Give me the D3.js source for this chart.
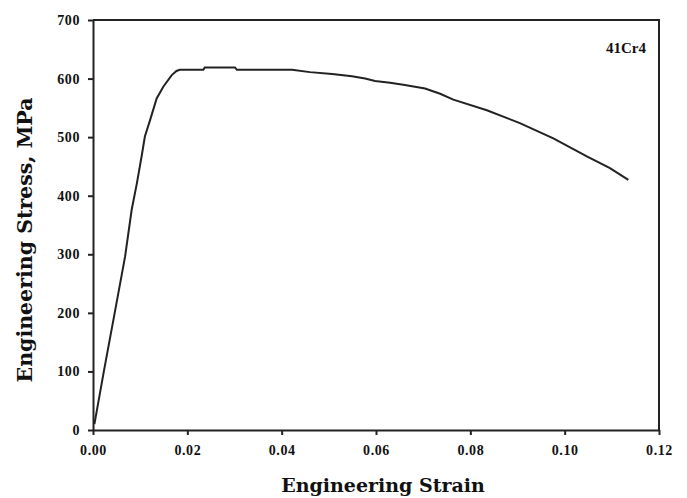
<!DOCTYPE html>
<html>
<head>
<meta charset="utf-8">
<script src="https://cdn.jsdelivr.net/npm/d3@7"></script>
<style>
  body { margin: 0; background: #fff; }
  svg { display: block; }
  .tick text { font-family: "Liberation Serif", serif; font-weight: bold; font-size: 14px; letter-spacing: 0.6px; fill: #111; }
  .axis-title { font-family: "DejaVu Serif", serif; font-weight: bold; fill: #111; }
</style>
</head>
<body>
<svg id="main-svg" width="687" height="498"></svg>
<script>
// engineering stress-strain curve, 41Cr4
var strain = [0.0003, 0.0023, 0.0046, 0.0068, 0.0082, 0.0093, 0.0103, 0.0110, 0.0121, 0.0135, 0.0149, 0.0167, 0.0177, 0.0184,
    0.0234, 0.0237, 0.0301, 0.0305, 0.0422, 0.046, 0.0507, 0.0549, 0.0577, 0.0598, 0.063, 0.0661, 0.0704, 0.0736,
    0.0764, 0.0835, 0.0905, 0.0976, 0.1047, 0.1096, 0.1135]
var stress = [10, 100, 200, 296, 376, 421, 467, 501, 529, 566, 586, 606, 613, 615,
    615, 619, 619, 615, 615, 611, 608, 604, 600, 596, 593, 589, 583, 574,
    564, 546, 524, 498, 467, 447, 427]
var xTicks = [0, 0.02, 0.04, 0.06, 0.08, 0.10, 0.12]
var yTicks = [0, 100, 200, 300, 400, 500, 600, 700]
var label = '41Cr4'

var svg = d3.select('#main-svg')
var plotL = 93, plotR = 659, plotT = 20, plotB = 430

var x = d3.scaleLinear().domain([0, 0.12]).range([plotL, plotR])
var y = d3.scaleLinear().domain([0, 700]).range([plotB, plotT])

// frame: top and right sides
svg.append('path')
    .attr('d', 'M' + plotL + ',' + plotT + 'H' + plotR + 'V' + plotB)
    .attr('fill', 'none')
    .attr('stroke', '#222')
    .attr('stroke-width', 2)

svg.append('g')
    .attr('transform', 'translate(0,' + plotB + ')')
    .call(d3.axisBottom(x).tickValues(xTicks).tickFormat(d3.format('.2f')).tickSize(5).tickSizeOuter(0).tickPadding(10))
svg.append('g')
    .attr('transform', 'translate(' + plotL + ',0)')
    .call(d3.axisLeft(y).tickValues(yTicks).tickSize(5).tickSizeOuter(0).tickPadding(8))

svg.selectAll('.domain, .tick line')
    .attr('stroke', '#222')
    .attr('stroke-width', 2)

var line = d3.line()
    .x(function(d, i) { return x(strain[i]) })
    .y(function(d, i) { return y(stress[i]) })

svg.append('path')
    .datum(strain)
    .attr('d', line)
    .attr('fill', 'none')
    .attr('stroke', '#222')
    .attr('stroke-width', 2)

svg.append('text')
    .attr('x', 626)
    .attr('y', 53)
    .attr('text-anchor', 'middle')
    .style('font-family', '"Liberation Serif", serif')
    .style('font-weight', 'bold')
    .style('font-size', '15px')
    .style('fill', '#111')
    .text(label)

svg.append('text')
    .attr('class', 'axis-title')
    .attr('x', 383)
    .attr('y', 492)
    .attr('text-anchor', 'middle')
    .style('font-size', '19px')
    .text('Engineering Strain')

svg.append('text')
    .attr('class', 'axis-title')
    .attr('transform', 'translate(32,240) rotate(-90)')
    .attr('text-anchor', 'middle')
    .style('font-size', '20.5px')
    .text('Engineering Stress, MPa')
</script>
</body>
</html>
